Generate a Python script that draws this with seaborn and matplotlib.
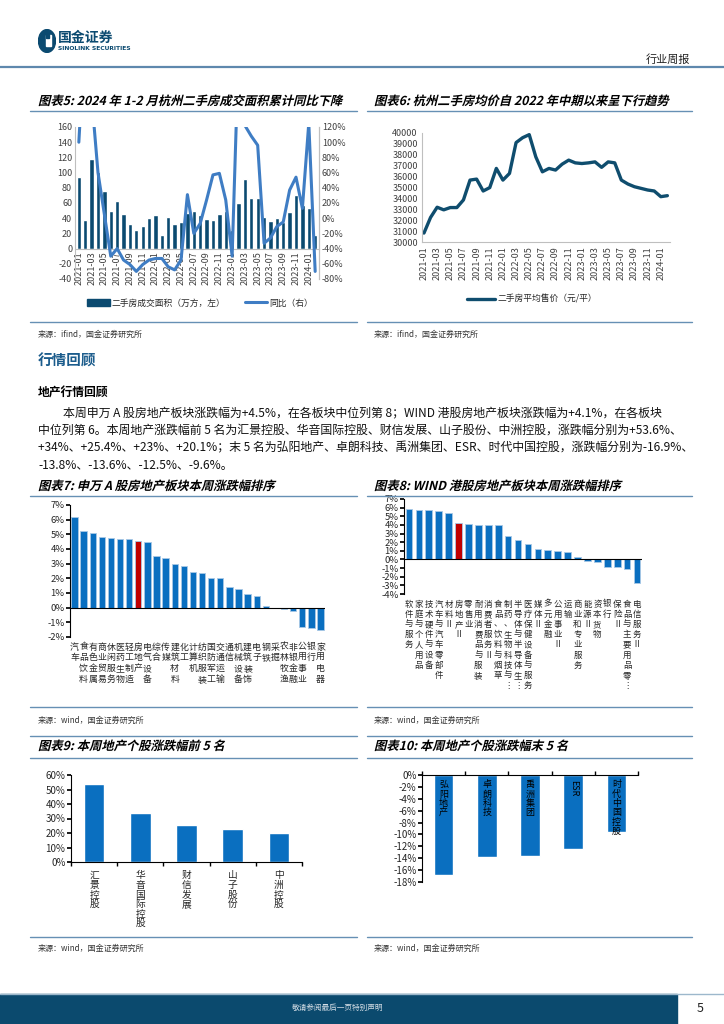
import numpy as np
import pandas as pd
import matplotlib
matplotlib.use("Agg")
import matplotlib.pyplot as plt
import seaborn as sns
from matplotlib.lines import Line2D
from matplotlib.patches import Rectangle, Ellipse, PathPatch
from matplotlib.textpath import TextPath
from matplotlib.font_manager import FontProperties
from matplotlib.transforms import Affine2D

sns.set_theme(style="white")
plt.rcParams['font.family'] = ['Noto Sans CJK SC', 'DejaVu Sans']
plt.rcParams['axes.unicode_minus'] = False

# ---------------- data ----------------
months = ['2021-01', '2021-02', '2021-03', '2021-04', '2021-05', '2021-06', '2021-07', '2021-08',
          '2021-09', '2021-10', '2021-11', '2021-12', '2022-01', '2022-02', '2022-03', '2022-04',
          '2022-05', '2022-06', '2022-07', '2022-08', '2022-09', '2022-10', '2022-11', '2022-12',
          '2023-01', '2023-02', '2023-03', '2023-04', '2023-05', '2023-06', '2023-07', '2023-08',
          '2023-09', '2023-10', '2023-11', '2023-12', '2024-01', '2024-02']
# 二手房成交面积（万方）
trade_area = [94, 38, 118, 101, 76, 50, 62, 45, 33, 24, 30, 40,
              44, 18, 41, 32, 35, 47, 50, 44, 39, 37, 46, 50,
              24, 60, 92, 66, 66, 42, 36, 40, 35, 48, 71, 57,
              53, 18]
# 同比（%）
trade_yoy = [100, 250, 160, 60, 5, -50, -40, -55, -61, -70, -61, -55,
             -53, -53, -64, -68, -55, 31, -20, -7, 24, 57, 59, 24,
             -50, 220, 122, 108, 96, -33, -26, -11, -5, 37, 54, 13,
             125, -70]
# 二手房平均售价（元/平）
avg_price = [30820, 32250, 33190, 32950, 33160, 33160, 33860, 35680, 35770, 34680, 34990, 36750,
             35680, 36290, 39120, 39570, 39850, 37810, 36440, 36750, 36600, 37140, 37510, 37260,
             37200, 37260, 37350, 36850, 37350, 37260, 35680, 35320, 35070, 34920, 34770, 34680,
             34160, 34250]

sw_names = ['汽车', '食品饮料', '有色金属', '商业贸易', '休闲服务', '医药生物', '轻工制造', '房地产',
            '电气设备', '综合', '传媒', '建筑材料', '化工', '计算机', '纺织服装', '国防军工',
            '交通运输', '通信', '机械设备', '建筑装饰', '电子', '钢铁', '采掘', '农林牧渔',
            '非银金融', '公用事业', '银行', '家用电器']
sw_chg = [6.2, 5.2, 5.1, 4.8, 4.75, 4.7, 4.65, 4.55, 4.5, 3.55, 3.4, 2.95, 2.85, 2.45,
          2.35, 2.0, 2.0, 1.4, 1.25, 0.95, 0.8, 0.1, 0.0, -0.1, -0.2, -1.3, -1.4, -1.5]

hk_names = ['软件与服务', '家庭与个人用品', '技术硬件与设备', '汽车与汽车零部件', '材料Ⅱ', '房地产Ⅱ',
            '零售业', '耐用消费品与服装', '消费者服务Ⅱ', '食品、饮料与烟草', '制药、生物科技与⋮',
            '半导体与半导体生⋮', '医疗保健设备与服务', '媒体Ⅱ', '多元金融', '公用事业Ⅱ', '运输',
            '商业和专业服务', '能源Ⅱ', '资本货物', '银行', '保险Ⅱ', '食品与主要用品零⋮', '电信服务Ⅱ']
hk_chg = [5.9, 5.7, 5.7, 5.6, 5.35, 4.2, 4.05, 3.95, 3.95, 3.95, 2.7, 2.25,
          1.75, 1.2, 1.1, 1.0, 0.85, 0.3, -0.2, -0.35, -0.9, -0.9, -1.1, -2.7]

top5_names = ['汇景控股', '华音国际控股', '财信发展', '山子股份', '中洲控股']
top5_chg = [53.6, 34.0, 25.4, 23.0, 20.1]
bottom5_names = ['弘阳地产', '卓朗科技', '禹洲集团', 'ESR', '时代中国控股']
bottom5_chg = [-16.9, -13.8, -13.6, -12.5, -9.6]

# ---------------- style ----------------
DARK = '#0B4A70'
PRICE = '#0F4D6E'
YOY = '#3F7DC4'
BLUE = '#0A6FC0'
RED = '#C00000'
RULE = '#6690B4'
GRAY = '#BFBFBF'
TXT = '#333333'

W, H = 724, 1024
fig = plt.figure(figsize=(W / 100, H / 100), dpi=100)


def add_ax(x0, y0, x1, y1):
    return fig.add_axes([x0 / W, 1 - y1 / H, (x1 - x0) / W, (y1 - y0) / H])


def put(x, y, s, **kw):
    kw.setdefault('va', 'center')
    fig.text(x / W, 1 - y / H, s, **kw)


def rule(x0, x1, y, color=RULE, lw=1.0):
    fig.add_artist(Line2D([x0 / W, x1 / W], [1 - y / H, 1 - y / H], color=color, lw=lw))


title_font = FontProperties(family='Noto Sans CJK SC', weight='bold')


def chart_title(x, y_base, s, size=12.3):
    # bold oblique title drawn as a sheared text path
    tp = TextPath((0, 0), s, size=size, prop=title_font)
    tr = Affine2D().skew_deg(14, 0).scale(1 / W, 1 / H).translate(x / W, 1 - y_base / H) + fig.transFigure
    fig.add_artist(PathPatch(tp, transform=tr, color='black', lw=0))


def stack(s):
    return '\n'.join(s)


# ---------------- header / footer ----------------
logo = add_ax(38, 29, 56, 53)
logo.set_xlim(0, 1)
logo.set_ylim(0, 1)
logo.axis('off')
logo.add_patch(Ellipse((0.5, 0.5), 0.95, 0.95, color=DARK))
logo.add_patch(Rectangle((0.42, 0.3), 0.32, 0.45, color='white'))
logo.add_patch(Rectangle((0.42, 0.62), 0.18, 0.2, color=DARK))
put(58, 38, '国金证券', fontsize=10, fontweight='bold', color=DARK)
put(58, 49, 'SINOLINK SECURITIES', fontsize=4.3, fontweight='bold', color=DARK, family='DejaVu Sans')
put(690, 60, '行业周报', fontsize=8, ha='right', color='#222222')
rule(0, 724, 67, color='#5E88AD', lw=1.6)

fig.add_artist(Rectangle((0, 0), 677 / W, 30 / H, transform=fig.transFigure, color='#0B4A6E'))
rule(0, 724, 993.5, color='#9DB8CC', lw=1.0)
put(338, 1008, '敬请参阅最后一页特别声明', fontsize=5.5, ha='center', color='#D5DEE6')
put(700, 1008, '5', fontsize=9, ha='center', color='#222222')

# ---------------- titles and rules ----------------
chart_title(38, 105, '图表5: 2024 年 1-2 月杭州二手房成交面积累计同比下降')
chart_title(374, 105, '图表6: 杭州二手房均价自 2022 年中期以来呈下行趋势')
rule(30, 357, 111)
rule(367, 692, 111)
rule(30, 357, 322)
rule(367, 692, 322)
put(38, 334, '来源：ifind，国金证券研究所', fontsize=5.8, color=TXT)
put(374, 334, '来源：ifind，国金证券研究所', fontsize=5.8, color=TXT)

put(38, 361, '行情回顾', fontsize=10.5, fontweight='bold', color='#1B5C8C')
put(38, 393, '地产行情回顾', fontsize=8.5, fontweight='bold', color='black')
para = ['本周申万 A 股房地产板块涨跌幅为+4.5%，在各板块中位列第 8；WIND 港股房地产板块涨跌幅为+4.1%，在各板块',
        '中位列第 6。本周地产涨跌幅前 5 名为汇景控股、华音国际控股、财信发展、山子股份、中洲控股，涨跌幅分别为+53.6%、',
        '+34%、+25.4%、+23%、+20.1%；末 5 名为弘阳地产、卓朗科技、禹洲集团、ESR、时代中国控股，涨跌幅分别为-16.9%、',
        '-13.8%、-13.6%、-12.5%、-9.6%。']
put(63, 413, para[0], fontsize=8.6, color='#111111')
for i, line in enumerate(para[1:]):
    put(38, 430 + 17.5 * i, line, fontsize=8.6, color='#111111')

chart_title(38, 490, '图表7: 申万 A 股房地产板块本周涨跌幅排序')
chart_title(374, 490, '图表8: WIND 港股房地产板块本周涨跌幅排序')
rule(30, 357, 496)
rule(367, 692, 496)
rule(30, 357, 707)
rule(367, 692, 707)
put(38, 720, '来源：wind，国金证券研究所', fontsize=5.8, color=TXT)
put(374, 720, '来源：wind，国金证券研究所', fontsize=5.8, color=TXT)

rule(30, 357, 736)
rule(367, 692, 736)
chart_title(38, 750, '图表9: 本周地产个股涨跌幅前 5 名')
chart_title(374, 750, '图表10: 本周地产个股涨跌幅末 5 名')
rule(30, 357, 758)
rule(367, 692, 758)
rule(30, 357, 937)
rule(367, 692, 937)
put(38, 948, '来源：wind，国金证券研究所', fontsize=5.8, color=TXT)
put(374, 948, '来源：wind，国金证券研究所', fontsize=5.8, color=TXT)

# ---------------- chart 5: area + yoy ----------------
ax5 = add_ax(75, 127, 319, 279)
sns.barplot(x=months, y=trade_area, color=DARK, saturation=1, width=0.68, ax=ax5)
ax5.set_ylim(-40, 160)
ax5.set_yticks(range(-40, 161, 20))
ax5.set_xlim(-0.6, len(months) - 0.4)
ax5.spines['bottom'].set_position(('data', 0))
ax5.set_xticks(range(0, len(months), 2))
ax5.set_xticklabels(months[::2], rotation=90)
ax5.set_xlabel('')
for side in ['left', 'right', 'bottom']:
    ax5.spines[side].set_color(GRAY)
    ax5.spines[side].set_linewidth(0.8)
ax5.spines['top'].set_visible(False)
ax5.tick_params(length=0, labelsize=6.5, labelcolor='#404040', pad=2)

ax5b = ax5.twinx()
sns.lineplot(x=np.arange(len(months)), y=trade_yoy, color=YOY, lw=2.2, ax=ax5b)
ax5b.set_ylim(-80, 120)
ax5b.set_yticks(range(-80, 121, 20))
ax5b.set_yticklabels([f'{v}%' for v in range(-80, 121, 20)])
ax5b.set_xlim(-0.6, len(months) - 0.4)
for side in ['left', 'top', 'bottom']:
    ax5b.spines[side].set_visible(False)
ax5b.spines['right'].set_color(GRAY)
ax5b.spines['right'].set_linewidth(0.8)
ax5b.tick_params(length=0, labelsize=6.5, labelcolor='#404040', pad=2)

fig.legend(handles=[Rectangle((0, 0), 1, 1, color=DARK), Line2D([], [], color=YOY, lw=2.2)],
           labels=['二手房成交面积（万方，左）', '同比（右）'], loc='center', ncol=2,
           bbox_to_anchor=(200 / W, 1 - 303 / H), frameon=False, fontsize=6.3,
           handlelength=2.6, handleheight=0.7, handletextpad=0.2, columnspacing=2.2)

# ---------------- chart 6: avg price ----------------
ax6 = add_ax(422, 133, 670, 242)
sns.lineplot(x=np.arange(len(avg_price)), y=avg_price, color=PRICE, lw=2.4, ax=ax6)
ax6.set_ylim(30000, 40000)
ax6.set_yticks(range(30000, 40001, 1000))
ax6.set_xlim(-0.3, len(avg_price) - 0.6)
ax6.set_xticks(range(0, len(months), 2))
ax6.set_xticklabels(months[::2], rotation=90)
for side in ['left', 'bottom']:
    ax6.spines[side].set_color(GRAY)
    ax6.spines[side].set_linewidth(0.8)
for side in ['top', 'right']:
    ax6.spines[side].set_visible(False)
ax6.tick_params(length=0, labelsize=6.5, labelcolor='#404040', pad=3)
fig.legend(handles=[Line2D([], [], color=PRICE, lw=2.4)], labels=['二手房平均售价（元/平）'],
           loc='center', bbox_to_anchor=(532 / W, 1 - 299 / H), frameon=False, fontsize=6.3,
           handlelength=3.2, handletextpad=0.2)


# ---------------- charts 7 & 8: sector ranking ----------------
def ranking(ax, names, values, highlight, lo, hi, width, fs, ls):
    palette = {n: (RED if n == highlight else BLUE) for n in names}
    sns.barplot(x=names, y=values, hue=names, palette=palette, legend=False, saturation=1,
                width=width, edgecolor='#A8C8E6', linewidth=0.6, ax=ax)
    ax.set_ylim(lo, hi)
    ax.set_yticks(range(lo, hi + 1))
    ax.set_yticklabels([f'{v}%' for v in range(lo, hi + 1)])
    ax.set_xlim(-0.5, len(names) - 0.5)
    ax.axhline(0, color='black', lw=0.8)
    ax.set_xticks(range(len(names)))
    ax.set_xticklabels([stack(n) for n in names], rotation=0, va='top', linespacing=ls)
    ax.set_xlabel('')
    for side in ['top', 'right', 'bottom']:
        ax.spines[side].set_visible(False)
    ax.spines['left'].set_color('black')
    ax.spines['left'].set_linewidth(0.8)
    ax.tick_params(axis='y', length=3, direction='out', color='black', labelsize=6.8, pad=1, left=True)
    ax.tick_params(axis='x', length=0, labelsize=fs, pad=4)


ax7 = add_ax(70, 505, 325, 637)
ranking(ax7, sw_names, sw_chg, '房地产', -2, 7, 0.7, 6.4, 1.25)
ax8 = add_ax(404, 499, 642, 594)
ranking(ax8, hk_names, hk_chg, '房地产Ⅱ', -4, 7, 0.68, 6.1, 1.17)

# ---------------- chart 9: top 5 ----------------
ax9 = add_ax(71, 775, 302, 862)
sns.barplot(x=top5_names, y=top5_chg, color=BLUE, saturation=1, width=0.45, ax=ax9)
ax9.set_ylim(0, 60)
ax9.set_yticks(range(0, 61, 10))
ax9.set_yticklabels([f'{v}%' for v in range(0, 61, 10)])
ax9.set_xlim(-0.5, 4.5)
ax9.set_xticks(range(5))
ax9.set_xticklabels([stack(n) for n in top5_names], va='top', linespacing=0.95)
ax9.set_xticks(np.arange(-0.5, 5, 1), minor=True)
ax9.set_xlabel('')
for side in ['top', 'right']:
    ax9.spines[side].set_visible(False)
for side in ['left', 'bottom']:
    ax9.spines[side].set_color('black')
    ax9.spines[side].set_linewidth(0.8)
ax9.tick_params(axis='y', length=3, direction='out', color='black', labelsize=7, pad=1, left=True)
ax9.tick_params(axis='x', which='major', length=0, labelsize=7, pad=6)
ax9.tick_params(axis='x', which='minor', length=3, direction='out', color='black', bottom=True)

# ---------------- chart 10: bottom 5 ----------------
ax10 = add_ax(422, 775, 638, 882)
sns.barplot(x=bottom5_names, y=bottom5_chg, color=BLUE, saturation=1, width=0.45, ax=ax10)
ax10.set_ylim(-18, 0)
ax10.set_yticks(range(-18, 1, 2))
ax10.set_yticklabels([f'{v}%' for v in range(-18, 1, 2)])
ax10.set_xlim(-0.5, 4.5)
ax10.xaxis.tick_top()
ax10.set_xticks(range(5))
ax10.set_xticklabels([])
ax10.set_xticks(np.arange(-0.5, 5, 1), minor=True)
ax10.set_xlabel('')
for side in ['bottom', 'right']:
    ax10.spines[side].set_visible(False)
for side in ['left', 'top']:
    ax10.spines[side].set_color('black')
    ax10.spines[side].set_linewidth(0.8)
ax10.tick_params(axis='y', length=3, direction='out', color='black', labelsize=7, pad=1, left=True)
ax10.tick_params(axis='x', which='major', length=0)
ax10.tick_params(axis='x', which='minor', length=3, direction='out', color='black', top=True)
for i, name in enumerate(bottom5_names):
    if name.isascii():
        ax10.text(i, -0.9, name, rotation=270, ha='center', va='top', fontsize=6.5, color='black')
    else:
        ax10.text(i, -0.9, stack(name), ha='center', va='top', fontsize=6.5, linespacing=1.05,
                  color='black')

fig.savefig('out.png', dpi=100)
